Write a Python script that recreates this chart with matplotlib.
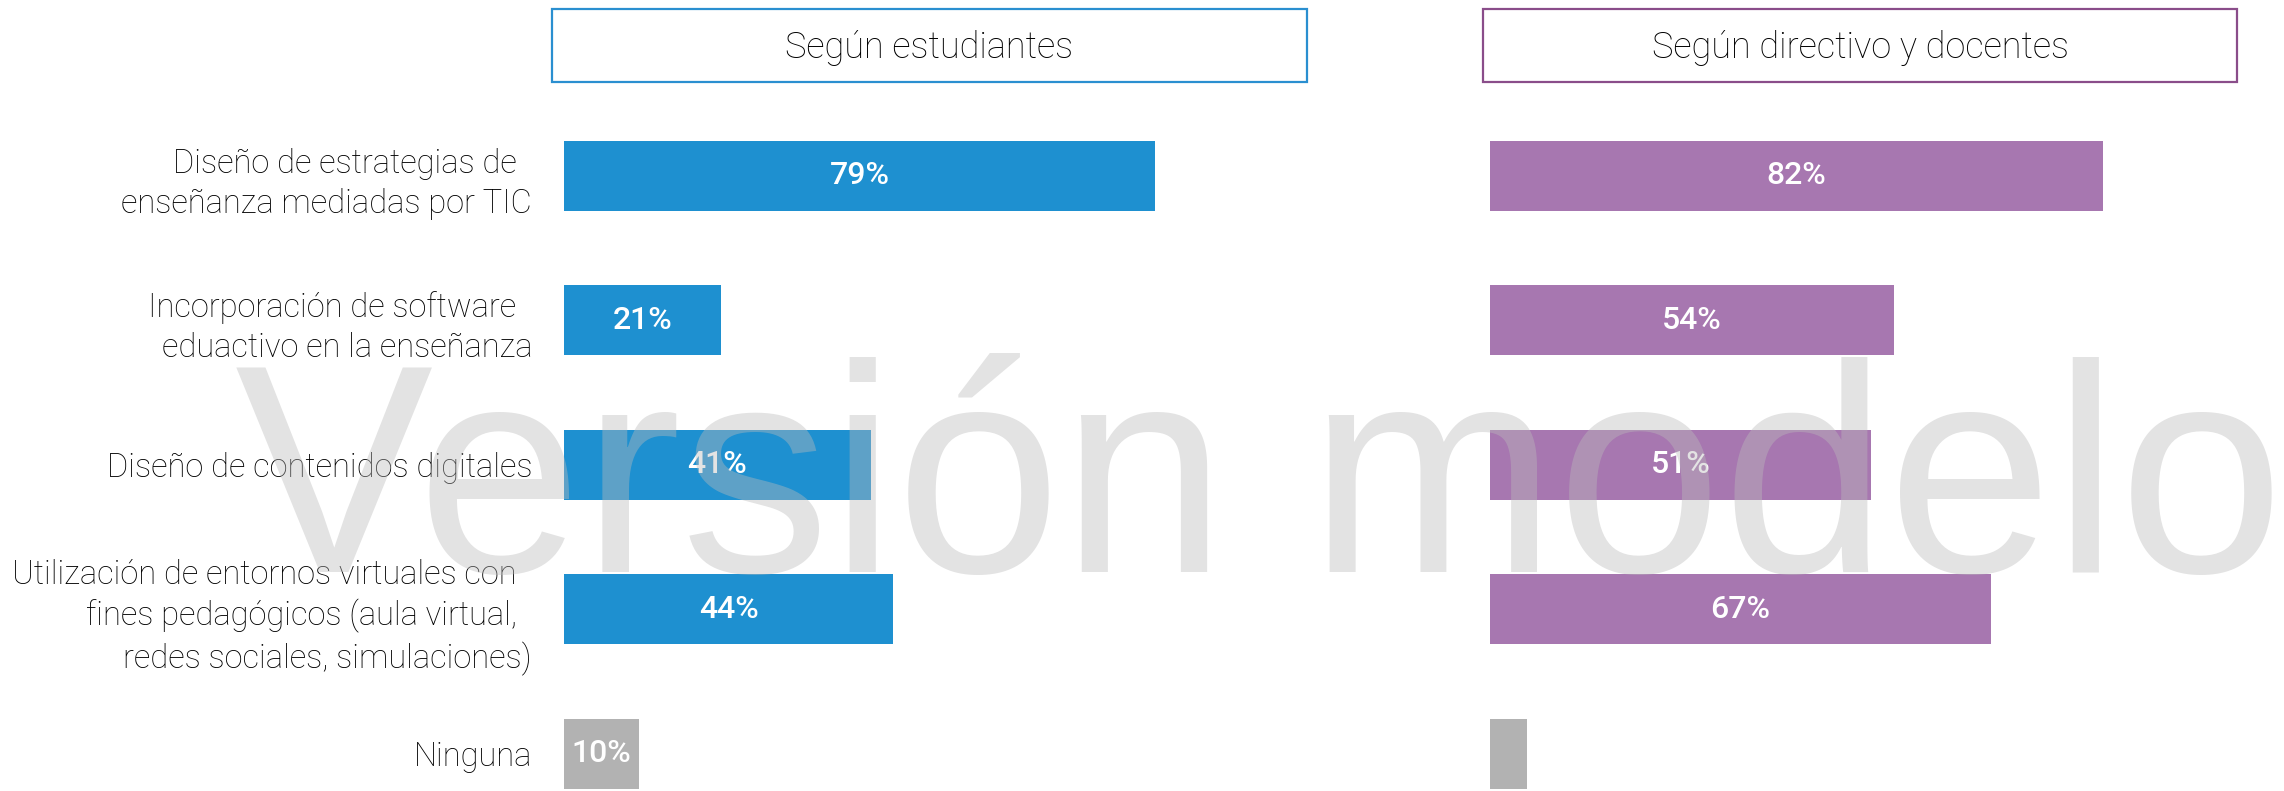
import matplotlib
matplotlib.use("Agg")
import matplotlib.pyplot as plt
from matplotlib.patches import Rectangle

# ---------------- data ----------------
categories = [
    "Diseño de estrategias de  \nenseñanza mediadas por TIC",
    "Incorporación de software  \neduactivo en la enseñanza",
    "Diseño de contenidos digitales",
    "Utilización de entornos virtuales con  \nfines pedagógicos (aula virtual,  \nredes sociales, simulaciones)",
    "Ninguna",
]
estudiantes = [79, 21, 41, 44, 10]
directivos = [82, 54, 51, 67, 5]
est_labels = ["79%", "21%", "41%", "44%", "10%"]
dir_labels = ["82%", "54%", "51%", "67%", ""]
panel_titles = ["Según estudiantes", "Según directivo y docentes"]
watermark = "Versión modelo"

BLUE = "#1e90d0"
PURPLE = "#a777b0"
GRAY = "#b2b2b2"
BLUE_EDGE = "#2a8fd0"
PURPLE_EDGE = "#8a4d8a"

W, H = 2284, 791
fig = plt.figure(figsize=(W / 100, H / 100), dpi=100)

LABEL_FONT = dict(family=["Roboto", "DejaVu Sans"], weight="light")
VAL_FONT = dict(family=["Roboto", "DejaVu Sans"], weight="medium")

def px_rect(x0, x1):
    return [x0 / W, 0, (x1 - x0) / W, 1]

ymax_top = -176 / 144.4
ymax_bot = (H - 176) / 144.4

panels = [
    (564, estudiantes, est_labels, BLUE, True),
    (1490, directivos, dir_labels, PURPLE, False),
]
for x0, vals, labs, col, show_labels in panels:
    ax = fig.add_axes(px_rect(x0, x0 + 748))
    ypos = list(range(len(vals)))
    colors = [col] * (len(vals) - 1) + [GRAY]
    ax.barh(ypos, vals, height=0.485, color=colors, zorder=2)
    for y, v, lab in zip(ypos, vals, labs):
        if lab:
            ax.text(v / 2, y, lab, ha="center", va="center", color="white",
                    fontsize=23, **VAL_FONT, zorder=3)
    ax.set_xlim(0, 100)
    ax.set_ylim(ymax_bot, ymax_top)
    ax.set_xticks([])
    for s in ax.spines.values():
        s.set_visible(False)
    if show_labels:
        ax.set_yticks(ypos)
        ax.set_yticklabels(categories, fontsize=23.5, color="#000000",
                           linespacing=1.32, **LABEL_FONT)
        ax.tick_params(axis="y", length=0, pad=23)
    else:
        ax.set_yticks([])
    ax.patch.set_alpha(0)

# header boxes
boxes = [(552, 1307, BLUE_EDGE, panel_titles[0]),
         (1483, 2237, PURPLE_EDGE, panel_titles[1])]
for x0, x1, ec, title in boxes:
    y0, y1 = 9, 82
    fig.patches.append(Rectangle((x0 / W, 1 - y1 / H), (x1 - x0) / W, (y1 - y0) / H,
                                 transform=fig.transFigure, fill=False,
                                 edgecolor=ec, linewidth=1.6))
    fig.text((x0 + x1) / 2 / W, 1 - 48 / H, title, ha="center", va="center",
             fontsize=26, color="#000000", **LABEL_FONT)

# watermark
fig.text(235 / W, 1 - 572 / H, watermark, ha="left", va="baseline",
         fontsize=214, family=["Liberation Sans", "DejaVu Sans"],
         color="#bbbbbb", alpha=0.41, zorder=10)

fig.savefig("out.png", dpi=100, facecolor="white")
